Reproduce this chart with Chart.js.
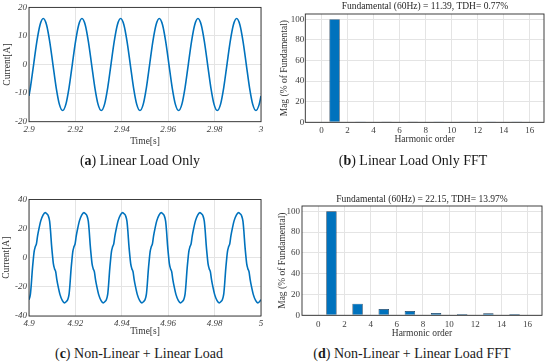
<!DOCTYPE html>
<html>
<head>
<meta charset="utf-8">
<script src="https://cdn.jsdelivr.net/npm/chart.js@4/dist/chart.umd.min.js"></script>
<style>
  html, body { margin: 0; padding: 0; background: #fff; }
  body { width: 550px; height: 364px; position: relative; overflow: hidden; }
  canvas { position: absolute; }
  .ttl { position: absolute; transform: translate(-50%, -50%); white-space: nowrap;
         font: 9.5px "Liberation Serif", serif; color: #262626; }
  .cap { position: absolute; transform: translate(-50%, -50%); white-space: nowrap;
         font: 14px "Liberation Serif", serif; color: #1a1a1a; z-index: 2; }
</style>
</head>
<body>
<canvas id="wave-a" style="left:0;top:0" width="275" height="160"></canvas>
<canvas id="fft-b" style="left:275px;top:0" width="275" height="160"></canvas>
<canvas id="wave-c" style="left:0;top:182px" width="275" height="160"></canvas>
<canvas id="fft-d" style="left:275px;top:182px" width="275" height="160"></canvas>

<div class="ttl" style="left:425px;top:6px">Fundamental (60Hz) = 11.39, TDH= 0.77%</div>
<div class="ttl" style="left:422px;top:199px">Fundamental (60Hz) = 22.15, TDH= 13.97%</div>

<div class="cap" style="left:140px;top:161px">(<b>a</b>) Linear Load Only</div>
<div class="cap" style="left:413px;top:161px">(<b>b</b>) Linear Load Only FFT</div>
<div class="cap" style="left:139px;top:354px">(<b>c</b>) Non-Linear + Linear Load</div>
<div class="cap" style="left:412px;top:354px">(<b>d</b>) Non-Linear + Linear Load FFT</div>

<script>
// (a) linear load current
const timeA = [2.9, 2.9006,
  2.90199, 2.90338, 2.90477, 2.90616, 2.90755, 2.90893, 2.91032, 2.91171, 2.9131, 2.91449, 2.91588, 2.91727,
  2.91866, 2.92005, 2.92144, 2.92283, 2.92422, 2.9256, 2.92699, 2.92838, 2.92977, 2.93116, 2.93255, 2.93394,
  2.93533, 2.93672, 2.93811, 2.9395, 2.94089, 2.94227, 2.94366, 2.94505, 2.94644, 2.94783, 2.94922, 2.95061,
  2.95199, 2.95338, 2.95477, 2.95616, 2.95755, 2.95893, 2.96032, 2.96171, 2.9631, 2.96449, 2.96588, 2.96727,
  2.96866, 2.97005, 2.97144, 2.97283, 2.97422, 2.9756, 2.97699, 2.97838, 2.97977, 2.98116, 2.98255, 2.98394,
  2.98533, 2.98672, 2.98811, 2.9895, 2.99089, 2.99227, 2.99366, 2.99505, 2.99644, 2.99783, 2.99922, 3.0];
const currentA = [-10.98, -8.05,
  0, 8.05, 13.94, 16.1, 13.94, 8.05, 0, -8.05, -13.94, -16.1, -13.94, -8.05,
  0, 8.05, 13.94, 16.1, 13.94, 8.05, 0, -8.05, -13.94, -16.1, -13.94, -8.05,
  0, 8.05, 13.94, 16.1, 13.94, 8.05, 0, -8.05, -13.94, -16.1, -13.94, -8.05,
  0, 8.05, 13.94, 16.1, 13.94, 8.05, 0, -8.05, -13.94, -16.1, -13.94, -8.05,
  0, 8.05, 13.94, 16.1, 13.94, 8.05, 0, -8.05, -13.94, -16.1, -13.94, -8.05,
  0, 8.05, 13.94, 16.1, 13.94, 8.05, 0, -8.05, -13.94, -16.1, -13.94, -10.98];
const timeTicksA = [2.9, 2.92, 2.94, 2.96, 2.98, 3];
const currentTicksA = [-20, -10, 0, 10, 20];

// (c) non-linear + linear load current
const timeC = [
  4.9, 4.9006, 4.901, 4.9014, 4.9018, 4.9022, 4.9027, 4.9032, 4.9037, 4.9043, 4.9051, 4.9061, 4.907, 4.9078,
  4.9083, 4.9089, 4.9093, 4.9097, 4.9101, 4.9105, 4.911, 4.9115, 4.912, 4.9126, 4.9134, 4.9144, 4.9153, 4.9161,
  4.91667, 4.91727, 4.91767, 4.91807, 4.91847, 4.91887, 4.91937, 4.91987, 4.92037, 4.92097, 4.92177, 4.92277, 4.92367, 4.92447,
  4.92497, 4.92557, 4.92597, 4.92637, 4.92677, 4.92717, 4.92767, 4.92817, 4.92867, 4.92927, 4.93007, 4.93107, 4.93197, 4.93277,
  4.93333, 4.93393, 4.93433, 4.93473, 4.93513, 4.93553, 4.93603, 4.93653, 4.93703, 4.93763, 4.93843, 4.93943, 4.94033, 4.94113,
  4.94163, 4.94223, 4.94263, 4.94303, 4.94343, 4.94383, 4.94433, 4.94483, 4.94533, 4.94593, 4.94673, 4.94773, 4.94863, 4.94943,
  4.95, 4.9506, 4.951, 4.9514, 4.9518, 4.9522, 4.9527, 4.9532, 4.9537, 4.9543, 4.9551, 4.9561, 4.957, 4.9578,
  4.9583, 4.9589, 4.9593, 4.9597, 4.9601, 4.9605, 4.961, 4.9615, 4.962, 4.9626, 4.9634, 4.9644, 4.9653, 4.9661,
  4.96667, 4.96727, 4.96767, 4.96807, 4.96847, 4.96887, 4.96937, 4.96987, 4.97037, 4.97097, 4.97177, 4.97277, 4.97367, 4.97447,
  4.97497, 4.97557, 4.97597, 4.97637, 4.97677, 4.97717, 4.97767, 4.97817, 4.97867, 4.97927, 4.98007, 4.98107, 4.98197, 4.98277,
  4.98333, 4.98393, 4.98433, 4.98473, 4.98513, 4.98553, 4.98603, 4.98653, 4.98703, 4.98763, 4.98843, 4.98943, 4.99033, 4.99113,
  4.99163, 4.99223, 4.99263, 4.99303, 4.99343, 4.99383, 4.99433, 4.99483, 4.99533, 4.99593, 4.99673, 4.99773, 4.99863, 4.99943,
  5.0];
const currentC = [
  -28.8, -25, -18, -9, -2, 4, 7.5, 9.5, 15, 20, 25.5, 29.5, 31, 30,
  28.8, 25, 18, 9, 2, -4, -7.5, -9.5, -15, -20, -25.5, -29.5, -31, -30,
  -28.8, -25, -18, -9, -2, 4, 7.5, 9.5, 15, 20, 25.5, 29.5, 31, 30,
  28.8, 25, 18, 9, 2, -4, -7.5, -9.5, -15, -20, -25.5, -29.5, -31, -30,
  -28.8, -25, -18, -9, -2, 4, 7.5, 9.5, 15, 20, 25.5, 29.5, 31, 30,
  28.8, 25, 18, 9, 2, -4, -7.5, -9.5, -15, -20, -25.5, -29.5, -31, -30,
  -28.8, -25, -18, -9, -2, 4, 7.5, 9.5, 15, 20, 25.5, 29.5, 31, 30,
  28.8, 25, 18, 9, 2, -4, -7.5, -9.5, -15, -20, -25.5, -29.5, -31, -30,
  -28.8, -25, -18, -9, -2, 4, 7.5, 9.5, 15, 20, 25.5, 29.5, 31, 30,
  28.8, 25, 18, 9, 2, -4, -7.5, -9.5, -15, -20, -25.5, -29.5, -31, -30,
  -28.8, -25, -18, -9, -2, 4, 7.5, 9.5, 15, 20, 25.5, 29.5, 31, 30,
  28.8, 25, 18, 9, 2, -4, -7.5, -9.5, -15, -20, -25.5, -29.5, -31, -30,
  -28.8];
const timeTicksC = [4.9, 4.92, 4.94, 4.96, 4.98, 5];
const currentTicksC = [-40, -20, 0, 20, 40];

// harmonic spectra, % of fundamental
const harmonicOrder = [0, 1, 2, 3, 4, 5, 6, 7, 8, 9, 10, 11, 12, 13, 14, 15, 16];
const magLinear    = [0, 100, 0, 0.1, 0, 0.4, 0, 0.35, 0, 0.3, 0, 0.3, 0, 0.25, 0, 0.2, 0];
const magNonLinear = [0, 100, 0, 11.2, 0, 6.1, 0, 4.2, 0, 2.2, 0, 1.2, 0, 1.9, 0, 1.2, 0];
const harmonicTicks = [0, 2, 4, 6, 8, 10, 12, 14, 16];
const magTicks = [0, 20, 40, 60, 80, 100];

const blue = '#0072BD';
const gridColor = '#e4e4e4';
const tickColor = '#404040';
const serif = '"Liberation Serif", serif';

// MATLAB style box around the axes
const frame = {
  id: 'frame',
  afterDraw(chart) {
    const { ctx, chartArea: a } = chart;
    ctx.save();
    ctx.strokeStyle = '#2a2a2a';
    ctx.lineWidth = 0.9;
    ctx.strokeRect(a.left, a.top, a.right - a.left, a.bottom - a.top);
    ctx.restore();
  }
};

const fmt = v => String(+(+v).toFixed(2));

function axisX(o) {
  return {
    type: 'linear', min: o.min, max: o.max, offset: false,
    afterBuildTicks: s => { s.ticks = o.ticks.map(v => ({ value: v })); },
    afterFit: s => { s.height = o.height; },
    grid: { color: gridColor, drawTicks: false, offset: false },
    border: { display: false },
    ticks: { padding: o.tickPad, color: tickColor, font: { family: serif, size: 9, style: o.italic ? 'italic' : 'normal' }, callback: fmt, maxRotation: 0, autoSkip: false },
    title: { display: true, text: o.title, color: '#333', padding: { top: 0, bottom: o.titlePad }, font: { family: serif, size: 9.5 } }
  };
}

function axisY(o) {
  return {
    min: o.min, max: o.max,
    afterBuildTicks: s => { s.ticks = o.ticks.map(v => ({ value: v })); },
    afterFit: s => { s.width = o.width; },
    grid: { color: gridColor, drawTicks: false },
    border: { display: false },
    ticks: { padding: o.tickPad, color: tickColor, font: { family: serif, size: 9, style: o.italic ? 'italic' : 'normal' }, callback: fmt },
    title: { display: true, text: o.title, color: '#333', padding: { top: o.titlePad, bottom: 0 }, font: { family: serif, size: 9.5 } }
  };
}

function waveChart(id, times, values, xo, yo, pad) {
  new Chart(document.getElementById(id), {
    type: 'line',
    data: {
      datasets: [{
        data: times.map((t, i) => ({ x: t, y: values[i] })),
        borderColor: blue, borderWidth: 1.6, pointRadius: 0,
        cubicInterpolationMode: 'monotone', fill: false
      }]
    },
    options: {
      responsive: false, animation: false,
      layout: { padding: pad },
      plugins: { legend: { display: false }, tooltip: { enabled: false } },
      scales: { x: axisX(xo), y: axisY(yo) }
    },
    plugins: [frame]
  });
}

function fftChart(id, mags, xo, yo, pad) {
  new Chart(document.getElementById(id), {
    type: 'bar',
    data: {
      datasets: [{
        data: harmonicOrder.map((h, i) => ({ x: h, y: mags[i] })),
        backgroundColor: blue, borderColor: '#1d3a55', borderWidth: 0.7,
        barPercentage: 0.8, categoryPercentage: 1
      }]
    },
    options: {
      responsive: false, animation: false,
      layout: { padding: pad },
      plugins: { legend: { display: false }, tooltip: { enabled: false } },
      scales: { x: axisX(xo), y: axisY(yo) }
    },
    plugins: [frame]
  });
}

waveChart('wave-a', timeA, currentA,
  { min: 2.9, max: 3, ticks: timeTicksA, height: 38.3, tickPad: 3, titlePad: 13.3, italic: true, title: 'Time[s]' },
  { min: -20, max: 20, ticks: currentTicksA, width: 29, tickPad: 2, titlePad: 1.6, italic: true, title: 'Current[A]' },
  { top: 5.5, right: 14, left: 0, bottom: 0 });

waveChart('wave-c', timeC, currentC,
  { min: 4.9, max: 5, ticks: timeTicksC, height: 26, tickPad: 2, titlePad: 4.6, italic: true, title: 'Time[s]' },
  { min: -40, max: 40, ticks: currentTicksC, width: 29, tickPad: 2, titlePad: 1, italic: true, title: 'Current[A]' },
  { top: 17.5, right: 14, left: 0, bottom: 0 });

fftChart('fft-b', magLinear,
  { min: -1.25, max: 17.1, ticks: harmonicTicks, height: 37.7, tickPad: 3, titlePad: 14.6, title: 'Harmonic order' },
  { min: 0, max: 105, ticks: magTicks, width: 30.3, tickPad: 1, titlePad: 3.6, title: 'Mag (% of Fundamental)' },
  { top: 14, right: 6, left: 0, bottom: 0 });

fftChart('fft-d', magNonLinear,
  { min: -1.25, max: 17.1, ticks: harmonicTicks, height: 26.7, tickPad: 3.9, titlePad: 3.3, title: 'Harmonic order' },
  { min: 0, max: 105, ticks: magTicks, width: 27, tickPad: 2, titlePad: 1.3, title: 'Mag (% of Fundamental)' },
  { top: 24, right: 8, left: 0, bottom: 0 });
</script>
</body>
</html>
